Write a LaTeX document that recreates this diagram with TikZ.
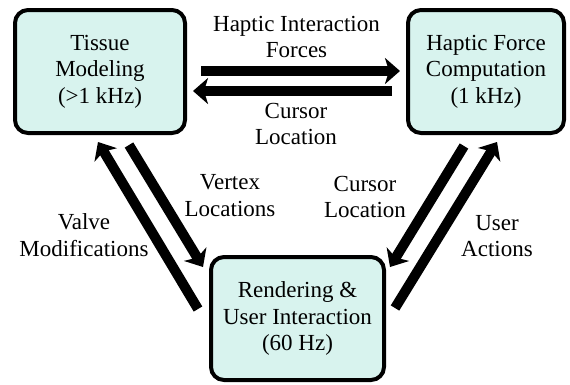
\documentclass[tikz,border=0pt]{standalone}
\usepackage{fontspec}
\setmainfont{Liberation Serif}
\usetikzlibrary{arrows.meta,calc}
\definecolor{boxfill}{RGB}{216,243,238}
\begin{document}
\begin{tikzpicture}[x=1pt,y=-1pt,
  txt/.style={font=\fontsize{23}{26.5}\selectfont, align=center, inner sep=0pt},
  box/.style={txt, draw=black, line width=4pt, fill=boxfill, rounded corners=13pt},
  fat/.style={line width=10pt, -{Stealth[length=15pt,width=26pt,inset=4pt]}}]
\useasboundingbox (0,0) rectangle (570,384);
\node[box, minimum width=170pt, minimum height=123pt] (tissue) at (100,71.5) {Tissue\\Modeling\\(>1 kHz)};
\node[box, minimum width=156pt, minimum height=123pt] (haptic) at (486,71.5) {Haptic Force\\Computation\\(1 kHz)};
\node[box, minimum width=173pt, minimum height=123pt] (render) at (297.5,318.5) {Rendering \&\\User Interaction\\(60 Hz)};
% horizontal arrows
\draw[fat] ($(tissue.east)+(14,-0.5)$) -- ($(haptic.west)+(-6,-0.5)$);
\draw[fat] ($(haptic.west)+(-14,19.5)$) -- ($(tissue.east)+(6,19.5)$);
% left diagonals
\draw[fat] ($(tissue.south)+(29,10)$) -- ($(render.north west)+(-6,12)$);
\draw[fat] ($(render.west)+(-11,-9.5)$) -- ($(tissue.south)+(-2,7)$);
% right diagonals
\draw[fat] ($(haptic.south)+(-22,11)$) -- ($(render.north east)+(4,12)$);
\draw[fat] ($(render.east)+(9,-10.5)$) -- ($(haptic.south)+(11,7)$);
% labels
\node[txt] (lforces) at (296.5,37) {Haptic Interaction\\Forces};
\node[txt] (lcursor) at (296,124) {Cursor\\Location};
\node[txt] (lvertex) at (230,195.5) {Vertex\\Locations};
\node[txt] (lcursorr) at (365,197) {Cursor\\Location};
\node[txt] (lvalve) at (84,235) {Valve\\Modifications};
\node[txt] (luser) at (497,236) {User\\Actions};
\end{tikzpicture}
\end{document}
